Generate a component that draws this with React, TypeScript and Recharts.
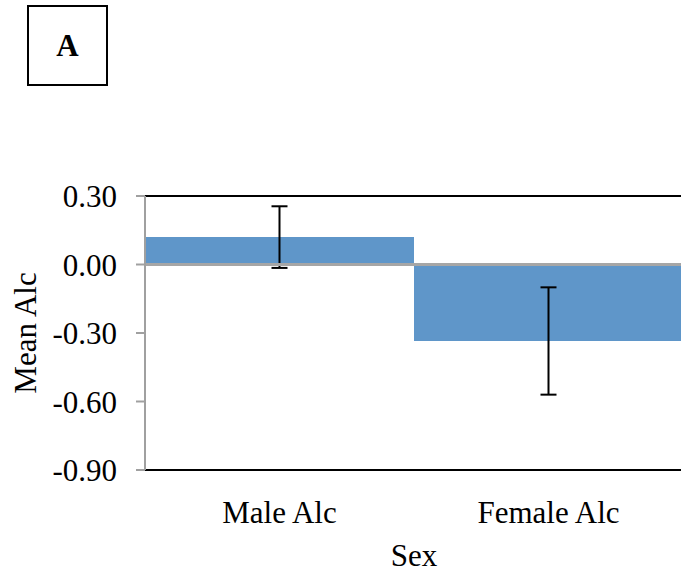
import {
  BarChart,
  Bar,
  XAxis,
  YAxis,
  ErrorBar,
  ReferenceLine,
  Label,
} from "recharts";

const CATEGORIES = ["Male Alc", "Female Alc"];
const MEANS = [0.12, -0.335];
const ERRORS = [0.135, 0.235];
const Y_TICKS = [0.3, 0, -0.3, -0.6, -0.9];

const FONT = "'Liberation Serif', 'Times New Roman', serif";

const data = CATEGORIES.map((name, i) => ({
  name,
  mean: MEANS[i],
  err: ERRORS[i],
}));

export default function App() {
  return (
    <div
      style={{
        position: "absolute",
        left: 0,
        top: 0,
        width: 681,
        height: 575,
        overflow: "hidden",
        background: "#fff",
        fontFamily: FONT,
      }}
    >
      <div
        style={{
          position: "absolute",
          left: 27,
          top: 5,
          width: 77,
          height: 77,
          border: "2px solid #000",
          display: "flex",
          alignItems: "center",
          justifyContent: "center",
          fontWeight: "bold",
          fontSize: 31,
          fontFamily: FONT,
        }}
      >
        A
      </div>

      <BarChart
        width={700}
        height={575}
        data={data}
        margin={{ top: 196, right: 17, bottom: 0, left: 0 }}
        barCategoryGap={0}
      >
        <XAxis
          dataKey="name"
          axisLine={false}
          tickLine={false}
          height={105}
          tickSize={0}
          tickMargin={31}
          tick={{ fontSize: 31, fill: "#000", fontFamily: FONT }}
        >
          <Label
            content={({ viewBox }: any) => (
              <text
                x={viewBox.x + viewBox.width / 2}
                y={566}
                textAnchor="middle"
                fontSize={31}
                fontFamily={FONT}
                fill="#000"
              >
                Sex
              </text>
            )}
          />
        </XAxis>
        <YAxis
          width={145}
          domain={[-0.9, 0.3]}
          ticks={Y_TICKS}
          interval={0}
          tickFormatter={(v: number) => v.toFixed(2)}
          axisLine={{ stroke: "#a0a0a0", strokeWidth: 2 }}
          tickLine={{ stroke: "#a0a0a0", strokeWidth: 2 }}
          tickSize={9}
          tickMargin={19}
          tick={{ fontSize: 31, fill: "#000", fontFamily: FONT }}
        >
          <Label
            content={({ viewBox }: any) => {
              const cy = viewBox.y + viewBox.height / 2;
              return (
                <text
                  x={25}
                  y={cy}
                  transform={`rotate(-90, 25, ${cy})`}
                  textAnchor="middle"
                  dominantBaseline="central"
                  fontSize={31}
                  fontFamily={FONT}
                  fill="#000"
                >
                  Mean Alc
                </text>
              );
            }}
          />
        </YAxis>
        <Bar dataKey="mean" fill="#5f96c9" isAnimationActive={false}>
          <ErrorBar
            dataKey="err"
            width={8}
            stroke="#000"
            strokeWidth={2}
            isAnimationActive={false}
          />
        </Bar>
        <ReferenceLine y={0} stroke="#a6a6a6" strokeWidth={3} />
        <ReferenceLine y={0.3} stroke="#000" strokeWidth={2} />
        <ReferenceLine y={-0.9} stroke="#000" strokeWidth={2} />
      </BarChart>
    </div>
  );
}
